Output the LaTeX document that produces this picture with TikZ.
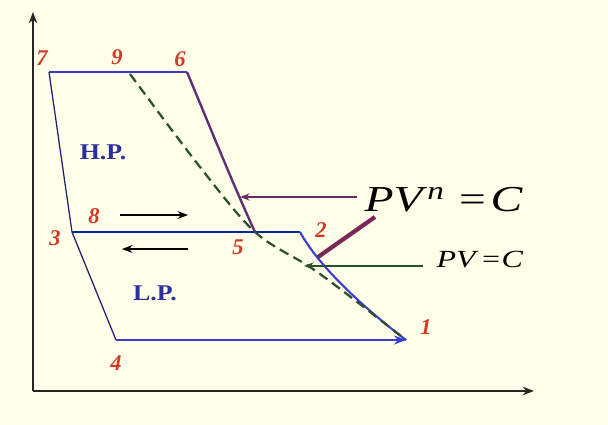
\documentclass[tikz,border=0pt]{standalone}
\usepackage{fontspec}
\setmainfont{Liberation Serif}
\usepackage{tikz}
\usetikzlibrary{positioning,arrows.meta,calc}

\definecolor{paper}{HTML}{FFFFE9}
\definecolor{cycblue}{HTML}{3C3CD0}
\definecolor{pvnpurple}{HTML}{6A2A62}
\definecolor{pvgreen}{HTML}{2A5030}
\definecolor{ptred}{HTML}{D03A28}

\begin{document}
\begin{tikzpicture}[
    x=0.025cm, y=-0.025cm,
    axis/.style={line width=1.7pt, -{Stealth[length=2.8mm]}, black!85},
    cyc/.style={line width=1.7pt, cycblue},
    comp/.style={line width=0.9pt, black!45!cycblue},
    pt/.style={font=\bfseries\itshape\fontsize{16}{16}\selectfont, text=ptred, inner sep=1pt},
    stage/.style={font=\bfseries\fontsize{16}{16}\selectfont, text=black!25!cycblue},
    flow/.style={line width=1pt, -{Stealth[length=2.6mm]}, black},
    law/.style={inner sep=1pt, anchor=base west},
  ]
  % --- frame ---
  \useasboundingbox[fill=paper] (0,0) rectangle (608,425);

  % --- state points ---
  \coordinate (o)  at (33,391);
  \coordinate (ytop) at (33,12);
  \coordinate (xend) at (534,391);
  \coordinate (p7) at (49,72);
  \coordinate (p9) at (130,74);
  \coordinate (p6) at (187,72);
  \coordinate (p3) at (72,232);
  \coordinate (p5) at (255,232);
  \coordinate (p2) at (300,232);
  \coordinate (p4) at (116,340);
  \coordinate (p1) at (406,340);
  \coordinate (d1) at (200,167);
  \coordinate (d2) at (310,267);
  \coordinate (d3) at (352,298);

  % --- axes ---
  \draw[axis] (o) -- (ytop);
  \draw[axis] (o) -- (xend);

  % --- cycle ---
  \draw[cyc] (p7) -- (p6);
  \draw[comp] (p7) -- (p3) -- (p4);
  \draw[line width=1.4pt, black!40!teal!60!blue] (p3) -- (p2);
  \draw[cyc, line width=1.5pt] (p2) .. controls (318,265) and (360,305) .. (p1);
  \draw[cyc, -{Stealth[length=3mm]}] (p4) -- (p1);
  \draw[line width=1.7pt, pvnpurple!80!cycblue]
    (p6) .. controls (208,122) and (232,182) .. (p5);
  \draw[line width=1.6pt, pvgreen, dash pattern=on 7pt off 4pt]
    plot[smooth, tension=0.55] coordinates {(p9) (d1) (p5) (d2) (d3) (p1)};

  % --- point labels ---
  \node[pt] (n7) at (42,58) {7};
  \node[pt] (n9) at (117,57) {9};
  \node[pt] (n6) at (180,59) {6};
  \node[pt] (n8) at (94,216) {8};
  \node[pt] (n3) at (55,238) {3};
  \node[pt] (n5) at (238,247) {5};
  \node[pt] (n2) at (321,230) {2};
  \node[pt] (n1) at (426,327) {1};
  \node[pt] (n4) at (116,363) {4};

  % --- stages ---
  \node[stage] (hp) at (103,152) {\scalebox{1.15}[1]{H.P.}};
  \node[stage] (lp) at (155,293) {\scalebox{1.15}[1]{L.P.}};

  % --- flow direction ---
  \coordinate (f8a) at (120,215);  \coordinate (f8b) at (188,215);
  \coordinate (f5a) at (188,249);  \coordinate (f5b) at (122,249);
  \draw[flow] (f8a) -- (f8b);
  \draw[flow] (f5a) -- (f5b);

  % --- process laws ---
  \node[law, font=\fontsize{26}{26}\selectfont] (pvn) at (363,212)
    {\scalebox{1.3}[1]{\textit{PV}\textsuperscript{\textit{n}}\hspace{0.3em}=\hspace{0.1em}\textit{C}}};
  \node[law, font=\fontsize{17.5}{17.5}\selectfont] (pvc) at (435,268)
    {\scalebox{1.3}[1]{\textit{PV}\hspace{0.1em}=\hspace{0.05em}\textit{C}}};
  \coordinate (hitn) at (240,197);
  \coordinate (hitc) at (304,266);
  \coordinate (tickA) at (375,217);
  \coordinate (tickB) at (318,257);
  \draw[line width=1.3pt, pvnpurple, -{Stealth[length=2.4mm]}]
    (pvn.west |- hitn) ++(-6,0) -- (hitn);
  \draw[line width=3pt, pvnpurple!90!red] (tickA) -- (tickB);
  \draw[line width=1.3pt, pvgreen, -{Stealth[length=2.4mm]}]
    (pvc.west |- hitc) ++(-12,0) -- (hitc);
\end{tikzpicture}
\end{document}
